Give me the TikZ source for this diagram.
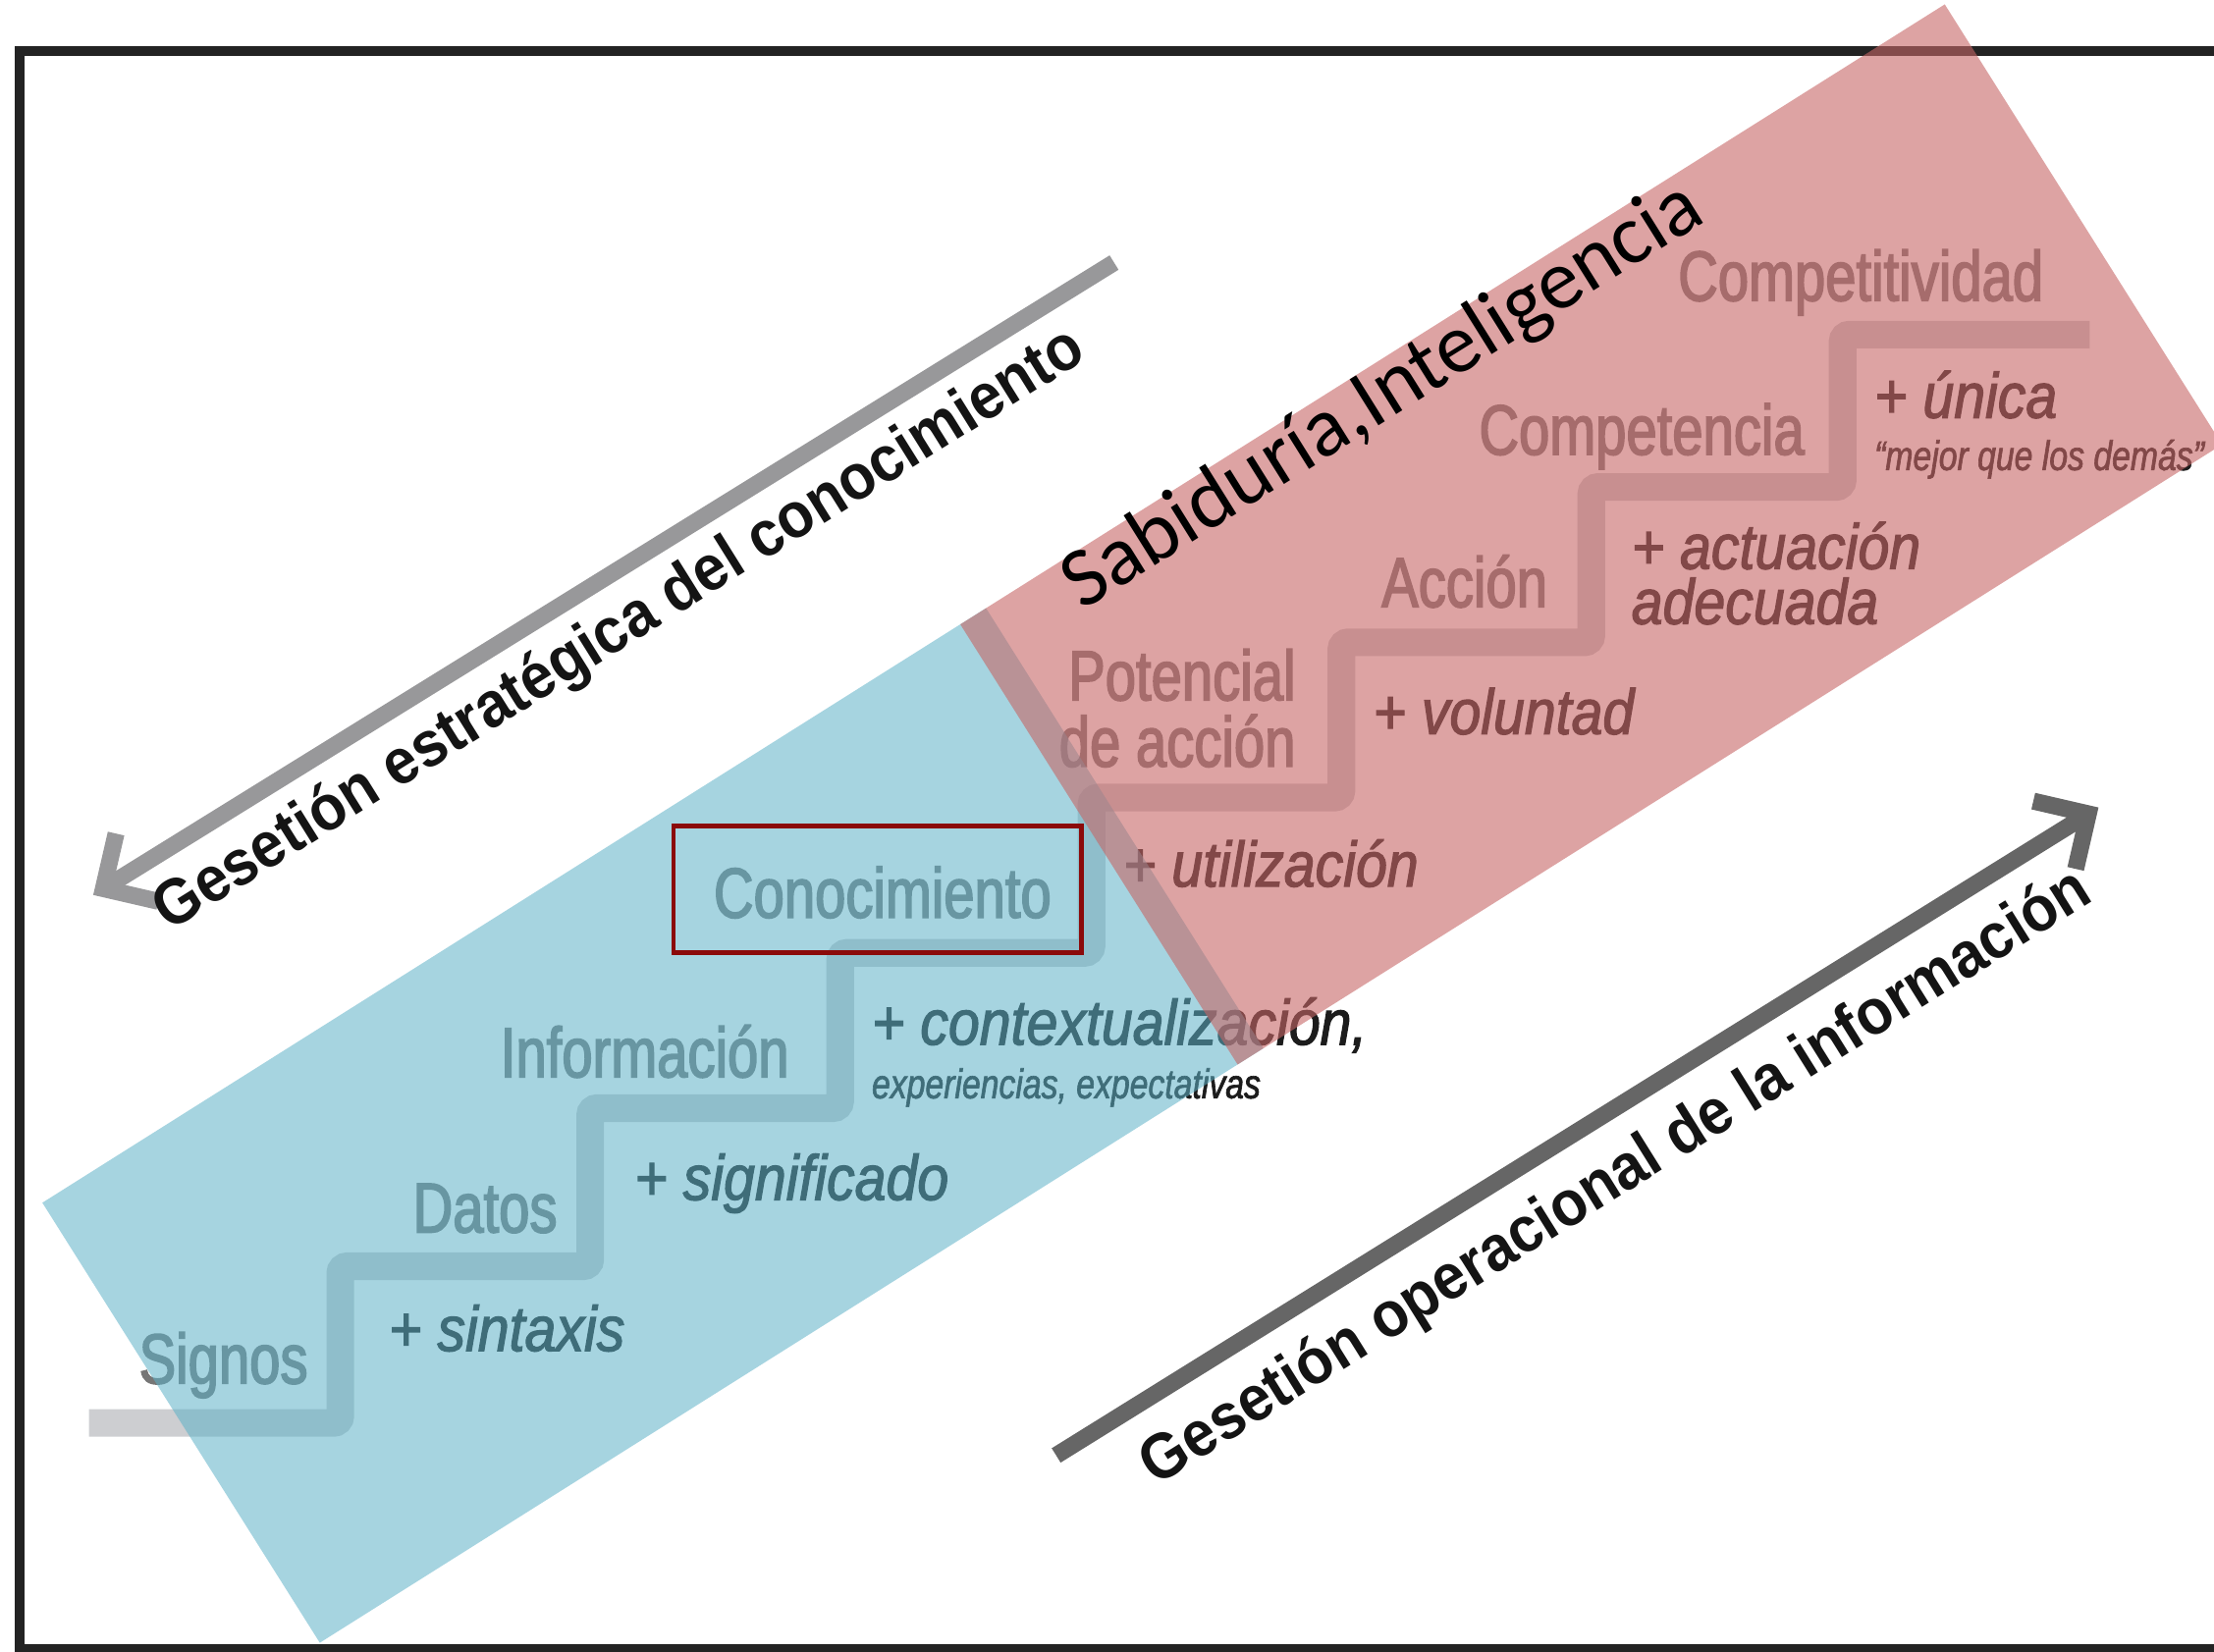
\documentclass[tikz,border=0pt]{standalone}
\usepackage{fontspec}
\newfontfamily\nounfont[FakeStretch=0.78,FakeBold=2.2]{Liberation Sans}
\newfontfamily\labfont[FakeStretch=0.88,FakeBold=1.8]{Liberation Sans}
\newfontfamily\smallfont[FakeStretch=0.80,FakeBold=1.5]{Liberation Sans}
\newfontfamily\arrfont[FakeStretch=0.92]{Liberation Sans}
\newfontfamily\sabfont{Carlito}
\definecolor{nounGray}{RGB}{118,118,118}
\definecolor{labDark}{RGB}{28,28,28}
\definecolor{stairGray}{RGB}{205,206,209}
\definecolor{blueOv}{RGB}{93,177,199}
\definecolor{redOv}{RGB}{198,102,102}
\definecolor{boxRed}{RGB}{139,10,10}
\definecolor{arrLight}{RGB}{152,152,154}
\definecolor{arrDark}{RGB}{102,102,102}
\definecolor{frameCol}{RGB}{35,35,35}
\begin{document}
\begin{tikzpicture}[x=0.01438cm,y=-0.01438cm,
  noun/.style={font=\nounfont\fontsize{20.5}{19}\selectfont, text=nounGray, inner sep=0pt},
  lab/.style={font=\labfont\itshape\fontsize{18.5}{16}\selectfont, text=labDark, inner sep=0pt},
  smalllab/.style={font=\smallfont\itshape\fontsize{12}{14}\selectfont, text=labDark, inner sep=0pt},
  arrlab/.style={font=\arrfont\bfseries\fontsize{18.6}{22}\selectfont, text=black!92, inner sep=0pt, rotate=32},
  stairline/.style={draw=stairGray, line width=8pt, rounded corners=2pt, line cap=butt},
  arrline/.style={line width=4.9pt, line cap=butt, miter limit=10, line join=miter},
  overlay blue/.style={fill=blueOv, fill opacity=0.55},
  overlay red/.style={fill=redOv, fill opacity=0.6}]
\useasboundingbox (0,0) rectangle (1568,1170);
\clip (0,0) rectangle (1568,1170);

% frame
\draw[frameCol, line width=2.9pt] (1600,36) -- (14,36) -- (14,1168) -- (1600,1168);

% staircase
\draw[stairline] (63,1008) -- (241,1008) -- (241,897) -- (418,897) -- (418,785)
  -- (595,785) -- (595,675) -- (773,675) -- (773,565) -- (950,565) -- (950,455)
  -- (1127,455) -- (1127,345) -- (1305,345) -- (1305,237) -- (1480,237);

% stair nouns
\node[noun, anchor=base west] (signos) at (98,980) {Signos};
\node[noun, anchor=base west] (datos) at (292,873) {Datos};
\node[noun, anchor=base west] (info) at (354,763) {Información};
\node[noun, anchor=base west] (conoc) at (505,650) {Conocimiento};
\node[noun, anchor=base east] (pot1) at (918,496) {Potencial};
\node[noun, anchor=base east] (pot2) at (918,543) {de acción};
\node[noun, anchor=base west] (accion) at (978,430) {Acción};
\node[noun, anchor=base west] (compet) at (1047,322) {Competencia};
\node[noun, anchor=base west] (competit) at (1188,213) {Competitividad};

% step labels
\node[lab, anchor=base west] (sint) at (275,957) {+ sintaxis};
\node[lab, anchor=base west] (sign) at (449,850) {+ significado};
\node[lab, anchor=base west] (context) at (617,740) {+ contextualización,};
\node[smalllab, anchor=base west] (exper) at (617,778) {experiencias, expectativas};
\node[lab, anchor=base west] (util) at (795,628) {+ utilización};
\node[lab, anchor=base west] (volun) at (972,520) {+ voluntad};
\node[lab, anchor=base west] (actu1) at (1155,403) {+ actuación};
\node[lab, anchor=base west] (actu2) at (1155,442) {adecuada};
\node[lab, anchor=base west] (unica) at (1327,296) {+ única};
\node[smalllab, anchor=base west] (mejor) at (1327,333) {“mejor que los demás”};

% overlays
\fill[overlay blue] (30,852) -- (698.3,430.8) -- (894.7,742.6) -- (226.5,1163.7) -- cycle;
\fill[overlay red] (680.1,442.3) -- (1377.3,3.1) -- (1573.7,314.9) -- (876.5,754.1) -- cycle;

% highlight box
\draw[boxRed, line width=1.3pt] (477,585) rectangle (766,675);

% Sabiduria
\node[font=\sabfont\fontsize{24.5}{30}\selectfont, text=black, inner sep=0pt, rotate=32] (sab) at (980,281) {Sabiduría,Inteligencia};

% arrow 1 (strategic)
\coordinate (a1tail) at (789,186);
\coordinate (a1tip) at (73.2,629.5);
\coordinate (a1b1) at (82.2,590.5);
\coordinate (a1b2) at (112.2,638.5);
\draw[arrline, draw=arrLight] (a1tail) -- (a1tip);
\draw[arrline, draw=arrLight] (a1b1) -- (a1tip) -- (a1b2);
\node[arrlab] (lab1) at (439,447) {Gesetión estratégica del conocimiento};

% arrow 2 (operational)
\coordinate (a2tail) at (748,1031);
\coordinate (a2tip) at (1479,576.5);
\coordinate (a2b1) at (1440,567.5);
\coordinate (a2b2) at (1470,615.5);
\draw[arrline, draw=arrDark] (a2tail) -- (a2tip);
\draw[arrline, draw=arrDark] (a2b1) -- (a2tip) -- (a2b2);
\node[arrlab] (lab2) at (1145,835) {Gesetión operacional de la información};
\end{tikzpicture}
\end{document}
